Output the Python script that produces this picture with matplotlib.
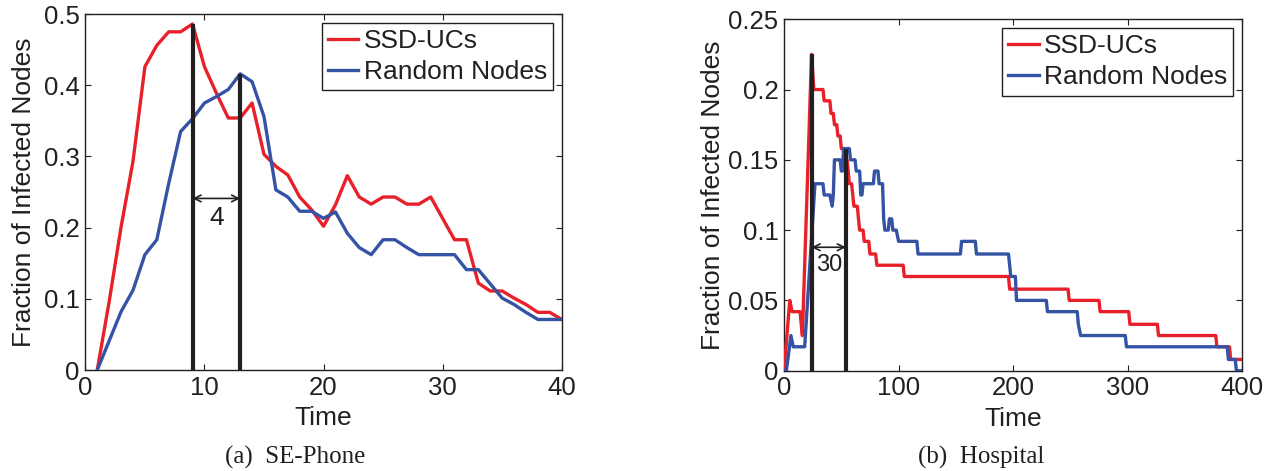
import matplotlib
matplotlib.use("Agg")
import matplotlib.pyplot as plt

plt.rcParams['font.family'] = ['Liberation Sans', 'DejaVu Sans']

RED = '#E8202A'
BLUE = '#3553A4'
INK = '#231F20'

# ---- (a) SE-Phone: infected fraction per time step ----
phone_time = list(range(1, 41))
phone_ssd = [0.000, 0.096, 0.201, 0.293, 0.426, 0.456, 0.475, 0.475, 0.486, 0.426,
             0.389, 0.354, 0.354, 0.375, 0.303, 0.286, 0.274, 0.243, 0.225, 0.202,
             0.232, 0.273, 0.243, 0.233, 0.243, 0.243, 0.233, 0.233, 0.243, 0.213,
             0.183, 0.183, 0.122, 0.111, 0.111, 0.101, 0.092, 0.081, 0.081, 0.071]
phone_rand = [0.000, 0.041, 0.082, 0.112, 0.162, 0.183, 0.262, 0.335, 0.353, 0.375,
              0.384, 0.394, 0.416, 0.405, 0.356, 0.253, 0.243, 0.223, 0.223, 0.213,
              0.222, 0.192, 0.172, 0.162, 0.183, 0.183, 0.172, 0.162, 0.162, 0.162,
              0.162, 0.141, 0.141, 0.121, 0.101, 0.092, 0.081, 0.071, 0.071, 0.071]
phone_peaks = [9, 13]
phone_gap_label = '4'

# ---- (b) Hospital: infected fraction (vertices of the step curves) ----
hosp_ssd_t = [0, 5, 7, 14, 15, 16, 24, 26, 34, 35, 40, 41, 43, 44, 46, 47, 49, 50,
              52, 53, 55, 56, 57, 59, 60, 61, 64, 65, 66, 69, 70, 74, 75, 80, 81,
              104, 105, 196, 197, 248, 249, 275, 276, 301, 302, 326, 327, 377, 378,
              389, 390, 400]
hosp_ssd_v = [0.000, 0.050, 0.042, 0.042, 0.033, 0.025, 0.225, 0.200, 0.200, 0.192,
              0.192, 0.183, 0.183, 0.175, 0.175, 0.167, 0.167, 0.158, 0.158, 0.150,
              0.150, 0.142, 0.133, 0.133, 0.125, 0.117, 0.117, 0.108, 0.100, 0.100,
              0.092, 0.092, 0.083, 0.083, 0.075, 0.075, 0.067, 0.067, 0.058, 0.058,
              0.050, 0.050, 0.042, 0.042, 0.033, 0.033, 0.025, 0.025, 0.017, 0.017,
              0.008, 0.008]
hosp_rand_t = [0, 2, 6, 8, 18, 27, 34, 35, 40, 42, 43, 44, 49, 50, 51, 52, 57, 58,
               62, 63, 66, 67, 68, 69, 78, 79, 82, 83, 86, 87, 88, 91, 92, 94, 95,
               98, 100, 116, 117, 154, 155, 167, 168, 196, 198, 202, 203, 229, 230,
               256, 257, 259, 298, 299, 387, 388, 394, 395, 400]
hosp_rand_v = [0.000, 0.000, 0.025, 0.017, 0.017, 0.133, 0.133, 0.125, 0.125, 0.117,
               0.125, 0.150, 0.150, 0.142, 0.142, 0.158, 0.158, 0.150, 0.150, 0.142,
               0.142, 0.125, 0.125, 0.133, 0.133, 0.142, 0.142, 0.133, 0.133, 0.108,
               0.100, 0.100, 0.108, 0.108, 0.100, 0.100, 0.092, 0.092, 0.083, 0.083,
               0.092, 0.092, 0.083, 0.083, 0.067, 0.067, 0.050, 0.050, 0.042, 0.042,
               0.033, 0.025, 0.025, 0.017, 0.017, 0.008, 0.008, 0.000, 0.000]
hosp_peaks = [24, 54]
hosp_peak_vals = [0.225, 0.158]
hosp_gap_label = '30'

series_names = ['SSD-UCs', 'Random Nodes']
captions = ['(a)  SE-Phone', '(b)  Hospital']

fig = plt.figure(figsize=(12.72, 4.71), dpi=100)
ax1 = fig.add_axes([0.0671, 0.2144, 0.3745, 0.7558])
ax2 = fig.add_axes([0.6164, 0.2130, 0.3601, 0.7461])


def style_axes(ax):
    for s in ax.spines.values():
        s.set_color(INK)
        s.set_linewidth(1.0)
    ax.tick_params(direction='in', length=4, width=0.8, color=INK,
                   labelsize=18.5, labelcolor=INK, top=True, right=True, pad=4)


# (a)
ax1.plot(phone_time, phone_ssd, color=RED, lw=2.4, label=series_names[0], zorder=3)
ax1.plot(phone_time, phone_rand, color=BLUE, lw=2.4, label=series_names[1], zorder=3)
peak_vals = [phone_ssd[phone_time.index(phone_peaks[0])],
             phone_rand[phone_time.index(phone_peaks[1])]]
for t, v in zip(phone_peaks, peak_vals):
    ax1.plot([t, t], [0, v], color=INK, lw=3.0, zorder=4, solid_capstyle='butt')
ax1.annotate('', xy=(phone_peaks[0], 0.241), xytext=(phone_peaks[1], 0.241),
             arrowprops=dict(arrowstyle='<->', color=INK, lw=1.2,
                             mutation_scale=12, shrinkA=0, shrinkB=0), zorder=5)
ax1.text(sum(phone_peaks) / 2, 0.214, phone_gap_label, ha='center', va='center',
         fontsize=19, color=INK)
ax1.set_xlim(0, 40)
ax1.set_ylim(0, 0.5)
ax1.set_xticks([0, 10, 20, 30, 40])
ax1.set_yticks([0, 0.1, 0.2, 0.3, 0.4, 0.5])
ax1.set_yticklabels(['0', '0.1', '0.2', '0.3', '0.4', '0.5'])

# (b)
ax2.plot(hosp_ssd_t, hosp_ssd_v, color=RED, lw=2.4, label=series_names[0], zorder=3)
ax2.plot(hosp_rand_t, hosp_rand_v, color=BLUE, lw=2.4, label=series_names[1], zorder=3)
for t, v in zip(hosp_peaks, hosp_peak_vals):
    ax2.plot([t, t], [0, v], color=INK, lw=3.0, zorder=4, solid_capstyle='butt')
ax2.annotate('', xy=(hosp_peaks[0], 0.0878), xytext=(hosp_peaks[1], 0.0878),
             arrowprops=dict(arrowstyle='<->', color=INK, lw=1.2,
                             mutation_scale=12, shrinkA=0, shrinkB=0), zorder=5)
ax2.text(sum(hosp_peaks) / 2, 0.075, hosp_gap_label, ha='center', va='center',
         fontsize=17, color=INK)
ax2.set_xlim(0, 400)
ax2.set_ylim(0, 0.25)
ax2.set_xticks([0, 100, 200, 300, 400])
ax2.set_yticks([0, 0.05, 0.1, 0.15, 0.2, 0.25])
ax2.set_yticklabels(['0', '0.05', '0.1', '0.15', '0.2', '0.25'])

for ax, lx in ((ax1, -0.104), (ax2, -0.130)):
    style_axes(ax)
    ax.set_xlabel('Time', fontsize=19, color=INK)
    ax.set_ylabel('Fraction of Infected Nodes', fontsize=19, color=INK)
    ax.yaxis.set_label_coords(lx, 0.5)
    ax.xaxis.set_label_coords(0.5, -0.102)
    leg = ax.legend(loc='upper right', fontsize=19, frameon=True, fancybox=False,
                    edgecolor=INK, framealpha=1, handlelength=1.15,
                    handletextpad=0.2, borderpad=0.23, labelspacing=0.28,
                    borderaxespad=0.33)
    leg.get_frame().set_linewidth(1.0)
    for txt in leg.get_texts():
        txt.set_color(INK)

fig.text(295 / 1272, 1 - 457 / 471, captions[0], ha='center', va='center',
         fontsize=18, family='Liberation Serif', color=INK)
fig.text(981 / 1272, 1 - 457 / 471, captions[1], ha='center', va='center',
         fontsize=18, family='Liberation Serif', color=INK)

fig.savefig('out.png', dpi=100)
